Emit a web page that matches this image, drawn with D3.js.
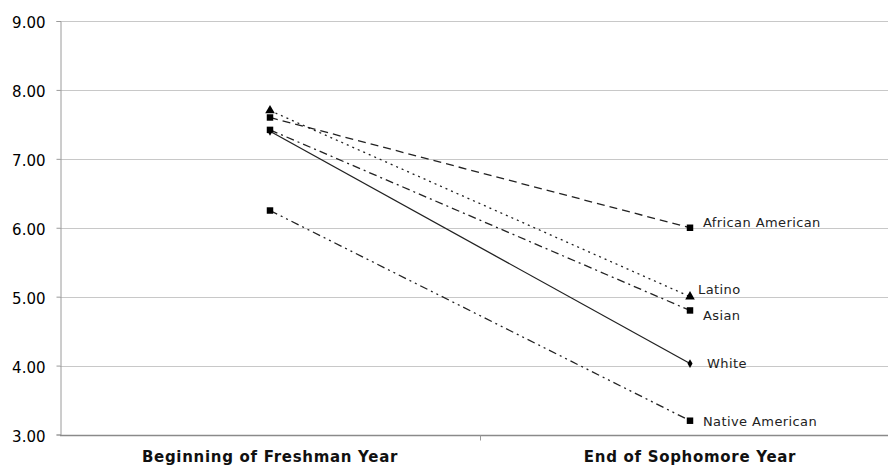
<!DOCTYPE html>
<html>
<head>
<meta charset="utf-8">
<script src="https://cdn.jsdelivr.net/npm/d3@7"></script>
<style>
  body { margin: 0; background: #fff; }
  svg { display: block; }
</style>
</head>
<body>
<div id="chart"></div>
<script>
// Data
var categories = ['Beginning of Freshman Year', 'End of Sophomore Year'];
var groups = ['African American', 'Latino', 'Asian', 'White', 'Native American'];
var freshmanValues = [7.6, 7.7, 7.42, 7.4, 6.25];
var sophomoreValues = [6.0, 5.0, 4.8, 4.03, 3.2];
var yTicks = [3, 4, 5, 6, 7, 8, 9];

// Styling per group
var dashes = { 'African American': '8,5', 'Latino': '2,4', 'Asian': '8,4,2,4', 'White': null, 'Native American': '8,4,2,4,2,4' };
var shapes = { 'African American': d3.symbolSquare, 'Latino': d3.symbolTriangle, 'Asian': d3.symbolSquare, 'White': d3.symbolDiamond, 'Native American': d3.symbolSquare };
var sizes = { 'African American': 42, 'Latino': 40, 'Asian': 42, 'White': 22, 'Native American': 42 };
var labelOffset = { 'African American': [13, -5], 'Latino': [8, -7], 'Asian': [13, 5], 'White': [17, 0], 'Native American': [13, 1] };

var width = 888, height = 468;
var margin = { left: 60, top: 21, bottom: 33 };

var svg = d3.select('#chart')
  .append('svg')
  .attr('width', width)
  .attr('height', height);

var xScale = d3.scaleBand()
  .domain(categories)
  .range([margin.left, 900])
  .padding(0);

var yScale = d3.scaleLinear()
  .domain([3, 9])
  .range([height - margin.bottom - 0.5, margin.top]);

// Gridlines
svg.append('g')
  .selectAll('line')
  .data(yTicks.slice(1))
  .enter()
  .append('line')
  .attr('x1', margin.left)
  .attr('x2', width)
  .attr('y1', function(d) { return Math.round(yScale(d)) + 0.5; })
  .attr('y2', function(d) { return Math.round(yScale(d)) + 0.5; })
  .attr('stroke', '#c8c8c8')
  .attr('stroke-width', 1);

// Y axis
var yAxis = svg.append('g')
  .attr('transform', 'translate(' + (margin.left + 0.5) + ',0)')
  .call(d3.axisLeft(yScale).tickValues(yTicks).tickFormat(d3.format('.2f')).tickSize(4).tickPadding(11));
yAxis.select('.domain').attr('stroke', '#9a9a9a');
yAxis.selectAll('.tick line').attr('stroke', '#9a9a9a');
yAxis.selectAll('.tick text')
  .style('font-family', 'DejaVu Sans, Verdana, sans-serif')
  .style('font-size', '15px')
  .attr('fill', '#000')
  .attr('dy', '0.45em');

// X axis
var xAxisY = Math.round(yScale(3)) + 0.5;
svg.append('line')
  .attr('x1', margin.left)
  .attr('x2', width)
  .attr('y1', xAxisY)
  .attr('y2', xAxisY)
  .attr('stroke', '#8a8a8a')
  .attr('stroke-width', 1.5);
svg.append('line')
  .attr('x1', xScale(categories[1]) + 0.5)
  .attr('x2', xScale(categories[1]) + 0.5)
  .attr('y1', xAxisY)
  .attr('y2', xAxisY + 5)
  .attr('stroke', '#9a9a9a');

svg.append('g')
  .selectAll('text')
  .data(categories)
  .enter()
  .append('text')
  .attr('x', function(d) { return xScale(d) + xScale.bandwidth() / 2; })
  .attr('y', 462)
  .attr('text-anchor', 'middle')
  .style('font-family', 'DejaVu Sans, Verdana, sans-serif')
  .style('font-size', '15px')
  .style('letter-spacing', '0.7px')
  .style('font-weight', 'bold')
  .attr('fill', '#111')
  .text(function(d) { return d; });

// Series
var series = groups.map(function(g, i) {
  return { name: g, values: [freshmanValues[i], sophomoreValues[i]] };
});

var cx = function(j) { return xScale(categories[j]) + xScale.bandwidth() / 2; };

var line = d3.line()
  .x(function(d, j) { return cx(j); })
  .y(function(d) { return yScale(d); });

var seriesG = svg.append('g')
  .selectAll('g')
  .data(series)
  .enter()
  .append('g');

seriesG.append('path')
  .attr('d', function(d) { return line(d.values); })
  .attr('fill', 'none')
  .attr('stroke', '#222')
  .attr('stroke-width', 1.3)
  .attr('stroke-dasharray', function(d) { return dashes[d.name]; });

seriesG.selectAll('path.marker')
  .data(function(d) { return d.values.map(function(v, j) { return { name: d.name, value: v, j: j }; }); })
  .enter()
  .append('path')
  .attr('class', 'marker')
  .attr('transform', function(d) { return 'translate(' + cx(d.j) + ',' + yScale(d.value) + ')'; })
  .attr('d', function(d) { return d3.symbol().type(shapes[d.name]).size(sizes[d.name])(); })
  .attr('fill', '#000');

// End labels
seriesG.append('text')
  .attr('x', function(d) { return cx(1) + labelOffset[d.name][0]; })
  .attr('y', function(d) { return yScale(d.values[1]) + labelOffset[d.name][1]; })
  .attr('dy', '0.35em')
  .style('font-family', 'DejaVu Sans, Verdana, sans-serif')
  .style('font-size', '13px')
  .style('letter-spacing', '0.4px')
  .attr('fill', '#222')
  .text(function(d) { return d.name; });
</script>
</body>
</html>
